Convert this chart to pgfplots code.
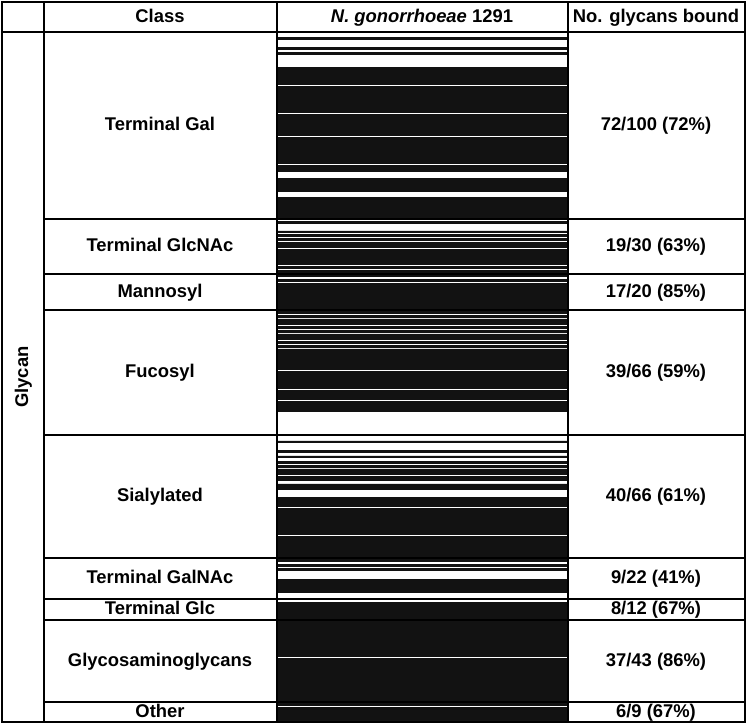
\documentclass[border=0pt]{standalone}
\usepackage{fontspec}
\setmainfont{Liberation Sans}
\usepackage{pgfplots}
\pgfplotsset{compat=1.18}

\begin{document}
\begin{tikzpicture}[x=0.5pt, y=-0.5pt,
  lbl/.style={font=\fontsize{9.2}{11}\bfseries\selectfont, text height=0.72em, text depth=0.2em, inner sep=0pt}]
\path (0,0) rectangle (750,728);
\coordinate (nw) at (277,32);

% one stripe per glycan on the array (368 in all), black = bound
\begin{axis}[
    at={(nw)}, anchor=north west,
    scale only axis, width=145.5pt, height=345pt,
    hide axis,
    xmin=0, xmax=1,
    ymin=-0.5, ymax=367.5,
    y dir=reverse,
    stripe/.style={xbar, bar width=1, bar shift=0, mark=none,
      fill=black!93, draw=black!93, line width=0.15pt},
]
% Terminal Gal (0-99)
\addplot[stripe] coordinates {(1,3) (1,8) (1,11) (1,19) (1,20) (1,21) (1,22) (1,23) (1,24) (1,25) (1,27)
  (1,29) (1,30) (1,31) (1,32) (1,33) (1,34) (1,35) (1,36) (1,37) (1,38) (1,39) (1,40) (1,41) (1,42)
  (1,44) (1,45) (1,46) (1,47) (1,48) (1,49) (1,50) (1,51) (1,52) (1,53) (1,54)
  (1,56) (1,57) (1,58) (1,59) (1,60) (1,61) (1,62) (1,63) (1,64) (1,65) (1,66) (1,67) (1,68) (1,69)
  (1,71) (1,72) (1,73) (1,78) (1,79) (1,80) (1,81) (1,82) (1,83) (1,84)
  (1,88) (1,89) (1,90) (1,91) (1,92) (1,93) (1,94) (1,95) (1,96) (1,97) (1,98) (1,99)};
% Terminal GlcNAc (100-129)
\addplot[stripe] coordinates {(1,101) (1,106) (1,108) (1,110) (1,112) (1,113) (1,114) (1,116) (1,117) (1,118)
  (1,119) (1,120) (1,121) (1,122) (1,123) (1,125) (1,127) (1,128) (1,129)};
% Mannosyl (130-149)
\addplot[stripe] coordinates {(1,132) (1,134) (1,135) (1,136) (1,137) (1,138) (1,139) (1,140) (1,141) (1,142)
  (1,143) (1,144) (1,145) (1,146) (1,147) (1,148) (1,149)};
% Fucosyl (150-215)
\addplot[stripe] coordinates {(1,151) (1,153) (1,155) (1,157) (1,159) (1,161) (1,163) (1,165) (1,167) (1,169)
  (1,170) (1,171) (1,172) (1,173) (1,174) (1,175) (1,176) (1,177) (1,178) (1,179)
  (1,181) (1,182) (1,183) (1,184) (1,185) (1,186) (1,187) (1,188) (1,189)
  (1,191) (1,192) (1,193) (1,194) (1,195) (1,197) (1,198) (1,199) (1,200) (1,201)};
% Sialylated (216-281)
\addplot[stripe] coordinates {(1,218) (1,223) (1,226) (1,229) (1,231) (1,233) (1,234) (1,235) (1,237) (1,238)
  (1,241) (1,242) (1,243) (1,248) (1,249) (1,250) (1,251) (1,252)
  (1,254) (1,255) (1,256) (1,257) (1,258) (1,259) (1,260) (1,261) (1,262) (1,263) (1,264) (1,265) (1,266) (1,267)
  (1,269) (1,270) (1,271) (1,272) (1,273) (1,274) (1,275) (1,276) (1,277) (1,278) (1,279) (1,280) (1,281)};
% Terminal GalNAc (282-303)
\addplot[stripe] coordinates {(1,284) (1,286) (1,292) (1,293) (1,294) (1,295) (1,296) (1,297) (1,298)};
% Terminal Glc (304-315)
\addplot[stripe] coordinates {(1,304) (1,305) (1,307) (1,308) (1,309) (1,310) (1,311) (1,312) (1,313) (1,314) (1,315)};
% Glycosaminoglycans (316-358)
\addplot[stripe] coordinates {(1,316) (1,317) (1,318) (1,319) (1,320) (1,321) (1,322) (1,323) (1,324) (1,325)
  (1,326) (1,327) (1,328) (1,329) (1,330) (1,331) (1,332) (1,334) (1,335) (1,336) (1,337) (1,338)
  (1,339) (1,340) (1,341) (1,342) (1,343) (1,344) (1,345) (1,346) (1,347) (1,348) (1,349) (1,350)
  (1,351) (1,352) (1,353) (1,354) (1,355) (1,356) (1,357) (1,358)};
% Other (359-367)
\addplot[stripe] coordinates {(1,360) (1,361) (1,362) (1,363) (1,364) (1,365) (1,366) (1,367)};
\end{axis}

% table frame
\draw[line width=1pt] (2,2) rectangle (745,722);
\draw[line width=1pt] (44,2) -- (44,722);
\draw[line width=1pt] (277,2) -- (277,722);
\draw[line width=1pt] (568,2) -- (568,722);
\draw[line width=1pt] (2,32) -- (745,32);
\foreach \yy in {219,274,310,435,558,599,620,702}
  \draw[line width=1pt] (44,\yy) -- (745,\yy);

% header
\node[lbl] at (160,17) {Class};
\node[lbl] at (422,17) {\textit{N. gonorrhoeae} 1291};
\node[lbl] at (656,17) {No. glycans bound};
\node[lbl, rotate=90] at (23,377) {Glycan};

% rows
\node[lbl] at (160,125.5) {Terminal Gal};
\node[lbl] at (656,125.5) {72/100 (72\%)};
\node[lbl] at (160,246.5) {Terminal GlcNAc};
\node[lbl] at (656,246.5) {19/30 (63\%)};
\node[lbl] at (160,292) {Mannosyl};
\node[lbl] at (656,292) {17/20 (85\%)};
\node[lbl] at (160,372.5) {Fucosyl};
\node[lbl] at (656,372.5) {39/66 (59\%)};
\node[lbl] at (160,496.5) {Sialylated};
\node[lbl] at (656,496.5) {40/66 (61\%)};
\node[lbl] at (160,578.5) {Terminal GalNAc};
\node[lbl] at (656,578.5) {9/22 (41\%)};
\node[lbl] at (160,609.5) {Terminal Glc};
\node[lbl] at (656,609.5) {8/12 (67\%)};
\node[lbl] at (160,661) {Glycosaminoglycans};
\node[lbl] at (656,661) {37/43 (86\%)};
\node[lbl] at (160,712) {Other};
\node[lbl] at (656,712) {6/9 (67\%)};
\end{tikzpicture}
\end{document}
